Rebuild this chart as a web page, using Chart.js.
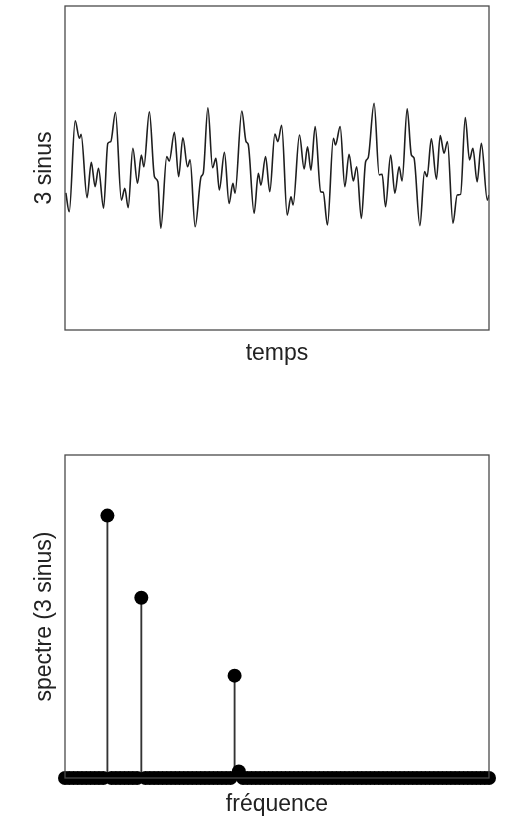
<!DOCTYPE html>
<html>
<head>
<meta charset="utf-8">
<script src="https://cdn.jsdelivr.net/npm/chart.js@4/dist/chart.umd.min.js"></script>
<style>
  html,body{margin:0;padding:0;background:#fff;}
  body{width:507px;height:819px;position:relative;overflow:hidden;}
  canvas{position:absolute;left:0;}
  #c1{top:0;}
  #c2{top:380px;}
</style>
</head>
<body>
<canvas id="c1" width="507" height="380"></canvas>
<canvas id="c2" width="507" height="439"></canvas>
<script>
// ---- Data ----
// Top panel: sum of 3 sines (time normalised 0..1, amplitude in arbitrary units)
const tempsT = [0.002,0.010,0.024,0.034,0.038,0.052,0.062,0.071,0.079,0.091,0.101,0.108,0.119,0.133,0.141,0.149,0.160,0.171,0.180,0.186,
  0.199,0.211,0.219,0.226,0.240,0.246,0.258,0.268,0.278,0.289,0.295,0.307,0.321,0.326,0.337,0.348,0.356,0.364,0.376,0.387,
  0.396,0.401,0.417,0.427,0.432,0.446,0.456,0.462,0.473,0.483,0.495,0.502,0.511,0.524,0.533,0.538,0.553,0.564,0.572,0.580,
  0.590,0.603,0.609,0.619,0.633,0.638,0.649,0.660,0.670,0.680,0.688,0.699,0.709,0.715,0.729,0.741,0.748,0.756,0.768,0.778,
  0.788,0.795,0.807,0.817,0.823,0.837,0.848,0.854,0.864,0.876,0.885,0.894,0.902,0.915,0.925,0.933,0.944,0.954,0.962,0.972,
  0.982,0.996,1.000];
const sinus3 = [-0.83,-1.46,1.57,0.99,1.12,-0.99,0.19,-0.62,-0.01,-1.34,0.82,0.88,1.86,-1.07,-0.68,-1.32,0.66,-0.51,0.43,0.04,
  1.87,-0.29,-0.46,-2.01,0.38,0.23,1.19,-0.29,1.01,0.04,0.27,-1.96,-0.29,-0.18,2.01,0.01,0.32,-0.73,0.52,-1.18,
  -0.51,-0.84,1.90,0.88,0.79,-1.51,-0.18,-0.57,0.38,-0.79,1.13,0.88,1.42,-1.57,-0.96,-1.23,1.10,-0.03,0.71,-0.07,
  1.38,-0.79,-0.81,-1.90,0.99,0.77,1.38,-0.62,0.46,-0.43,0.04,-1.68,0.21,0.34,2.16,-0.23,-0.21,-1.29,0.43,-0.84,
  0.04,-0.43,1.97,0.43,0.34,-1.92,-0.12,-0.29,0.97,-0.37,1.08,0.49,0.88,-1.84,-0.90,-0.88,1.68,0.27,0.66,-0.46,
  0.82,-1.07,-0.90];

// Bottom panel: spectrum (frequency bins 0..100, magnitude)
const freqBins = Array.from({length:101},(_,i)=>i);
const peakBins = [10, 18, 40, 41];
const peakMags = [1.00, 0.687, 0.39, 0.025];

const labels = { yTop: '3 sinus', xTop: 'temps', yBottom: 'spectre (3 sinus)', xBottom: 'fréquence' };

// ---- helpers ----
const spectre = freqBins.map(b => { const k = peakBins.indexOf(b); return k >= 0 ? peakMags[k] : 0; });
const FONT = { family: '"Liberation Sans", Arial, Helvetica, sans-serif', size: 23 };
const TXT = '#222';

const boxPlugin = {
  id: 'box',
  afterDatasetsDraw(chart) {
    const a = chart.chartArea, ctx = chart.ctx;
    ctx.save();
    ctx.strokeStyle = '#4a4a4a';
    ctx.lineWidth = 1.3;
    ctx.strokeRect(a.left, a.top, a.right - a.left, a.bottom - a.top);
    ctx.restore();
  }
};
const bgPlugin = {
  id: 'bg',
  beforeDraw(chart) {
    const ctx = chart.ctx; ctx.save(); ctx.fillStyle = '#fff';
    ctx.fillRect(0, 0, chart.width, chart.height); ctx.restore();
  }
};

function axisX(min, max, title, height, padBottom) {
  return {
    type: 'linear', min, max, offset: false,
    grid: { display: false, drawTicks: false }, border: { display: false },
    ticks: { display: false },
    title: { display: true, text: title, color: TXT, font: FONT, padding: { top: 0, bottom: padBottom } },
    afterFit(s) { s.height = height; }
  };
}
function axisY(min, max, title) {
  return {
    type: 'linear', min, max,
    grid: { display: false, drawTicks: false }, border: { display: false },
    ticks: { display: false },
    title: { display: true, text: title, color: TXT, font: FONT, padding: { top: 31, bottom: 0 } },
    afterFit(s) { s.width = 65; }
  };
}

// ---- top chart ----
new Chart(document.getElementById('c1'), {
  type: 'line',
  data: {
    datasets: [{
      data: tempsT.map((t, i) => ({ x: t, y: sinus3[i] })),
      borderColor: '#1e1e1e', borderWidth: 1.6, pointRadius: 0,
      cubicInterpolationMode: 'monotone', fill: false
    }]
  },
  options: {
    responsive: false, devicePixelRatio: 1, animation: false,
    layout: { padding: { left: 0, right: 18, top: 6, bottom: 0 } },
    plugins: { legend: { display: false }, tooltip: { enabled: false } },
    scales: { x: axisX(0, 1, labels.xTop, 50, 13), y: axisY(-5.4, 5.4, labels.yTop) }
  },
  plugins: [bgPlugin, boxPlugin]
});

// ---- bottom chart ----
new Chart(document.getElementById('c2'), {
  type: 'scatter',
  data: {
    datasets: [
      {
        type: 'bar',
        data: freqBins.map((b, i) => ({ x: b, y: spectre[i] })),
        backgroundColor: '#333', borderWidth: 0, barThickness: 1.2, order: 2
      },
      {
        type: 'scatter',
        data: freqBins.map((b, i) => ({ x: b, y: spectre[i] })),
        backgroundColor: '#000', borderColor: '#000', pointRadius: 7, borderWidth: 0,
        clip: false, order: 1
      }
    ]
  },
  options: {
    responsive: false, devicePixelRatio: 1, animation: false,
    layout: { padding: { left: 0, right: 18, top: 75, bottom: 0 } },
    plugins: { legend: { display: false }, tooltip: { enabled: false } },
    scales: { x: axisX(0, 100, labels.xBottom, 41, 1), y: axisY(0, 1.231, labels.yBottom) }
  },
  plugins: [bgPlugin, boxPlugin]
});
</script>
</body>
</html>
